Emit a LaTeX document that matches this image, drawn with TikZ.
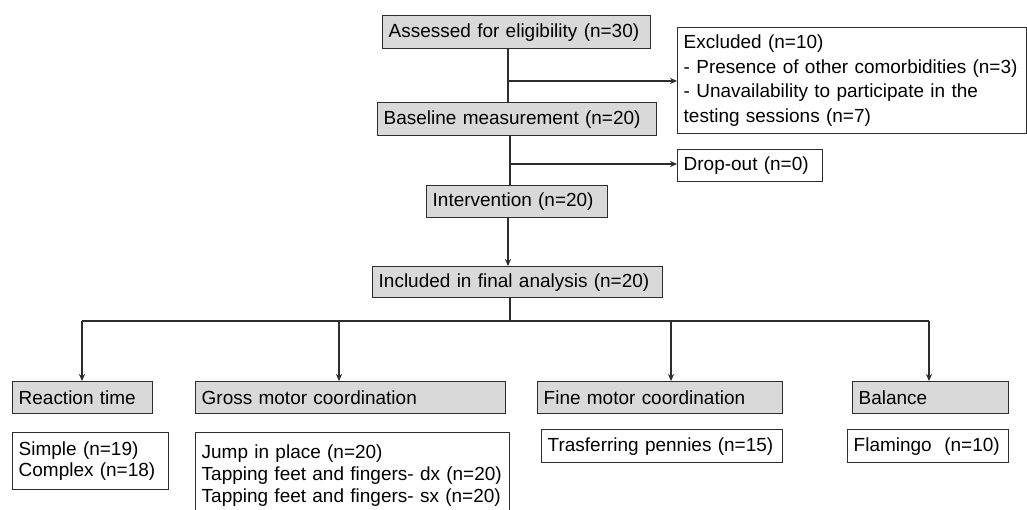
\documentclass[tikz,border=0pt]{standalone}
\usepackage{fontspec}
\setmainfont{Liberation Sans}
\usetikzlibrary{arrows.meta, positioning, calc}
\definecolor{boxgray}{RGB}{217,217,217}
\definecolor{linegray}{RGB}{45,45,45}

\begin{document}
\begin{tikzpicture}[
    x=0.02cm, y=-0.02cm,
    box/.style={draw=linegray, line width=0.8pt, anchor=north west, align=left, inner xsep=0.12cm, inner ysep=0pt, font=\fontsize{10.8}{13.4}\selectfont},
    graybox/.style={box, fill=boxgray},
    link/.style={draw=linegray, line width=0.6pt},
    >={Stealth[length=4pt, width=3.5pt]}
]
  \useasboundingbox (0,0) rectangle (1027,510);

  % Enrolment
  \node[graybox, text width=5.12cm, minimum height=0.66cm] (Assess) at (382,15) {Assessed for eligibility (n=30)};
  \node[box, text width=6.74cm, minimum height=2.12cm, font=\fontsize{10.8}{13.9}\selectfont] (Excl) at (677,27) {Excluded (n=10)\\- Presence of other comorbidities (n=3)\\- Unavailability to participate in the\\testing sessions (n=7)};

  \node[graybox, text width=5.34cm, minimum height=0.66cm] (Base) at (377,102) {Baseline measurement (n=20)};
  \node[box, text width=2.66cm, minimum height=0.64cm] (Drop) at (677,149) {Drop-out (n=0)};

  \node[graybox, text width=3.38cm, minimum height=0.64cm] (Interv) at (426,185) {Intervention (n=20)};
  \node[graybox, text width=5.56cm, minimum height=0.62cm] (Incl) at (372,266) {Included in final analysis (n=20)};

  \coordinate (br1) at (508,81);
  \coordinate (br2) at (510,164);
  \draw[link] (Assess.south -| br1) -- (Base.north -| br1);
  \draw[link, ->] (br1) -- (br1 -| Excl.west);
  \draw[link] (Base.south -| br2) -- (Interv.north -| br2);
  \draw[link, ->] (br2) -- (br2 -| Drop.west);
  \draw[link, ->] (Interv.south -| br1) -- (Incl.north -| br1);

  % Outcomes
  \node[graybox, text width=2.56cm, minimum height=0.64cm] (React) at (12,381) {Reaction time};
  \node[graybox, text width=5.96cm, minimum height=0.64cm] (Gross) at (195,381) {Gross motor coordination};
  \node[graybox, text width=4.66cm, minimum height=0.64cm] (Fine) at (537,381) {Fine motor coordination};
  \node[graybox, text width=2.88cm, minimum height=0.64cm] (Bal) at (852,381) {Balance};

  \node[box, text width=2.88cm, minimum height=1.14cm, font=\fontsize{10.8}{12}\selectfont] (Simple) at (12,432) {Simple (n=19)\\Complex (n=18)};
  \node[box, text width=6.04cm, minimum height=1.72cm, font=\fontsize{10.8}{12.6}\selectfont] (Jump) at (195,432) {Jump in place (n=20)\\Tapping feet and fingers- dx (n=20)\\Tapping feet and fingers- sx (n=20)};
  \node[box, text width=4.58cm, minimum height=0.66cm] (Trasf) at (541,429) {Trasferring pennies (n=15)};
  \node[box, text width=2.98cm, minimum height=0.66cm] (Flam) at (847,429) {Flamingo\ \ (n=10)};

  \coordinate (split) at (510,321);
  \coordinate (tR) at (82,321);
  \coordinate (tG) at (339,321);
  \coordinate (tF) at (671,321);
  \coordinate (tB) at (929,321);
  \draw[link] (Incl.south -| split) -- (split);
  \draw[link] (tR) -- (tB);
  \draw[link, ->] (tR) -- (tR |- React.north);
  \draw[link, ->] (tG) -- (tG |- Gross.north);
  \draw[link, ->] (tF) -- (tF |- Fine.north);
  \draw[link, ->] (tB) -- (tB |- Bal.north);
\end{tikzpicture}
\end{document}
